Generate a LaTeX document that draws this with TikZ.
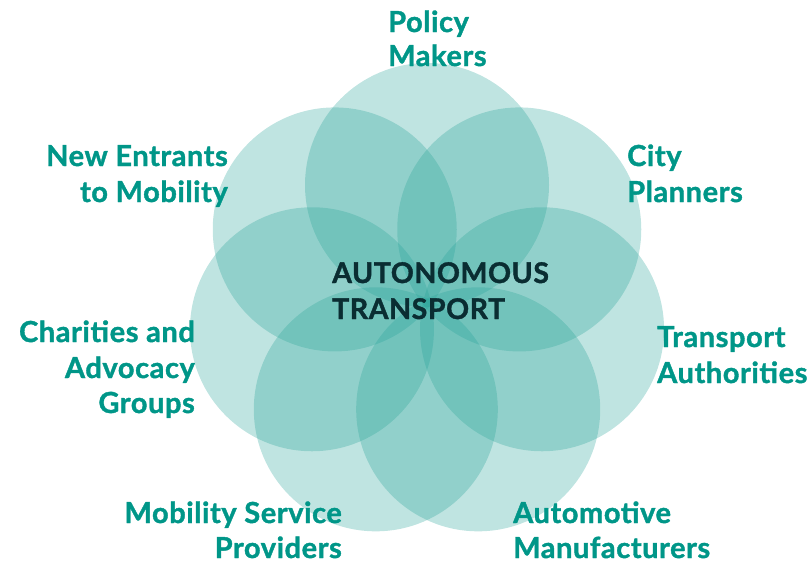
\documentclass[tikz,border=0pt]{standalone}
\usepackage{fontspec}
\setmainfont{Lato}[BoldFeatures={FakeBold=1.3,LetterSpace=2}]
\definecolor{petal}{RGB}{35,161,150}
\definecolor{lbl}{RGB}{0,150,136}
\definecolor{core}{RGB}{10,45,50}
\begin{document}
\begin{tikzpicture}[x=1pt,y=-1pt,
  petalc/.style={fill=petal,fill opacity=0.29,draw=none},
  lab/.style={text=lbl,font=\fontsize{29}{35}\selectfont\bfseries,inner sep=0pt},
  labl/.style={lab,anchor=base west},
  labr/.style={lab,anchor=base east},
  corel/.style={labl,text=core,font=\fontsize{28.5}{35}\selectfont\bfseries\addfontfeature{LetterSpace=0}}]
\useasboundingbox (0,0) rectangle (808,565);
\foreach \i in {0,...,6}{
  \fill[petalc] ({427+118*cos(90+\i*360/7)},{303-118*sin(90+\i*360/7)}) circle (122);
}
\node[labl] (pm1) at (388,32) {Policy};
\node[labl] (pm2) at (388,66) {Makers};
\node[labr] (ne1) at (228,166) {New Entrants};
\node[labr] (ne2) at (228,202) {to Mobility};
\node[labl] (cp1) at (627,166) {City};
\node[labl] (cp2) at (627,202) {Planners};
\node[labr] (ch1) at (195,342) {Charities and};
\node[labr] (ch2) at (195,378) {Advocacy};
\node[labr] (ch3) at (195,413) {Groups};
\node[labl] (ta1) at (657,347) {Transport};
\node[labl] (ta2) at (657,383) {Authorities};
\node[labr] (ms1) at (342,523) {Mobility Service};
\node[labr] (ms2) at (342,558) {Providers};
\node[labl] (am1) at (513,523) {Automotive};
\node[labl] (am2) at (513,558) {Manufacturers};
\node[corel] (at1) at (332,283) {AUTONOMOUS};
\node[corel] (at2) at (332,319) {TRANSPORT};
\end{tikzpicture}
\end{document}
